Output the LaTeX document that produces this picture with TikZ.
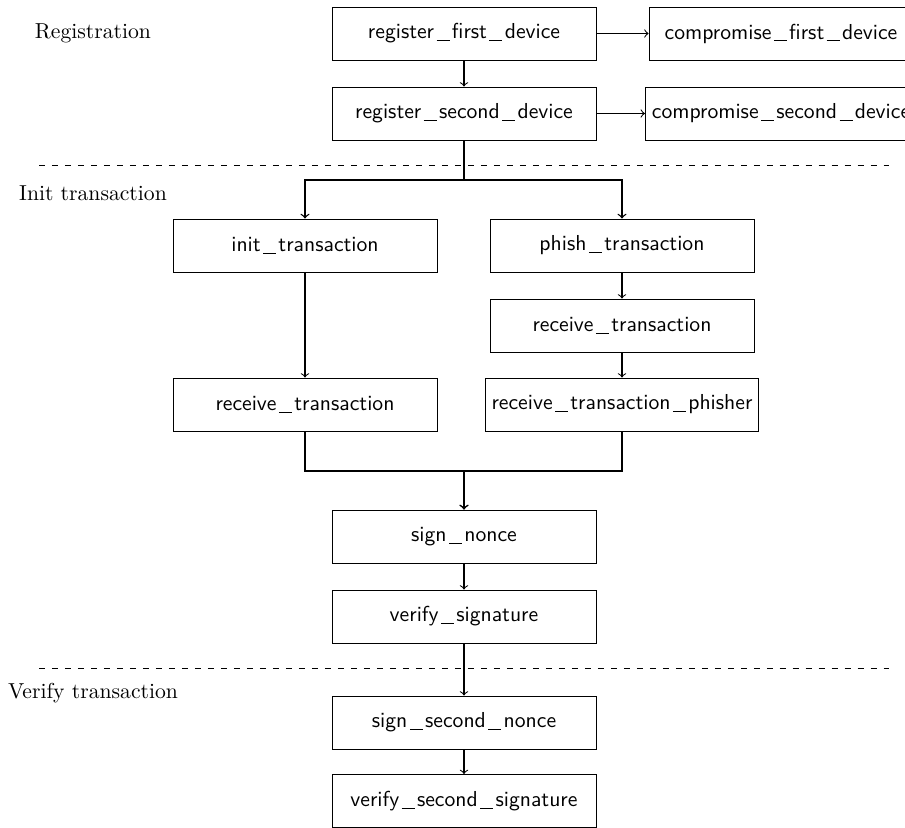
\documentclass[tikz,border=0pt]{standalone}
% underscore drawn as a low rule with a little space around it
\newcommand\us{\kern1.1pt\rule[-1pt]{6pt}{0.45pt}\kern1.1pt}
\begin{document}
\begin{tikzpicture}[x=0.4617pt, y=-0.4617pt,
  stepbox/.style={draw, rectangle, font=\sffamily, minimum width=121.9pt,
    minimum height=24.5pt, inner sep=3pt},
  phase/.style={font=\rmfamily},
  flow/.style={->, >=to, line width=0.5pt},
  joint/.style={->, >=to, line width=0.6pt},
  separator/.style={dashed}]
  \useasboundingbox (0,0) rectangle (905,828);
  \clip (0,0) rectangle (905,828);

  % phase labels
  \node[phase] (lreg)  at (93,33)  {Registration};
  \node[phase] (linit) at (93,193) {Init transaction};
  \node[phase] (lver)  at (93,693) {Verify transaction};

  % phase separators
  \coordinate (s1a) at (39,165);  \coordinate (s1b) at (889,165);
  \coordinate (s2a) at (39,668);  \coordinate (s2b) at (889,668);
  \draw[separator] (s1a) -- (s1b);
  \draw[separator] (s2a) -- (s2b);

  % steps
  \node[stepbox] (reg1)   at (464,33.5)  {register\us first\us device};
  \node[stepbox] (comp1)  at (781,33.5)  {compromise\us first\us device};
  \node[stepbox] (reg2)   at (464,113.5) {register\us second\us device};
  \node[stepbox] (comp2)  at (781,113.5) {compromise\us second\us device};
  \node[stepbox] (init)   at (305,245.5) {init\us transaction};
  \node[stepbox] (phish)  at (622,245.5) {phish\us transaction};
  \node[stepbox] (recvB)  at (622,325.5) {receive\us transaction};
  \node[stepbox] (recvA)  at (305,404.5) {receive\us transaction};
  \node[stepbox] (recvP)  at (622,404.5) {receive\us transaction\us phisher};
  \node[stepbox] (sign)   at (464,536.5) {sign\us nonce};
  \node[stepbox] (verify) at (464,616.5) {verify\us signature};
  \node[stepbox] (sign2)  at (464,722.5) {sign\us second\us nonce};
  \node[stepbox] (verify2) at (464,801)  {verify\us second\us signature};

  % branch and join points
  \coordinate (split) at (464,180);
  \coordinate (merge) at (464,471);

  % connectors
  \draw[flow] (reg1) -- (comp1);
  \draw[flow] (reg1) -- (reg2);
  \draw[flow] (reg2) -- (comp2);
  \draw[joint] (reg2.south) -- (split) -| (init.north);
  \draw[joint] (reg2.south) -- (split) -| (phish.north);
  \draw[flow] (init) -- (recvA);
  \draw[flow] (phish) -- (recvB);
  \draw[flow] (recvB) -- (recvP);
  \draw[joint] (recvA.south) |- (merge) -- (sign.north);
  \draw[joint] (recvP.south) |- (merge) -- (sign.north);
  \draw[flow] (sign) -- (verify);
  \draw[flow] (verify) -- (sign2);
  \draw[flow] (sign2) -- (verify2);
\end{tikzpicture}
\end{document}
